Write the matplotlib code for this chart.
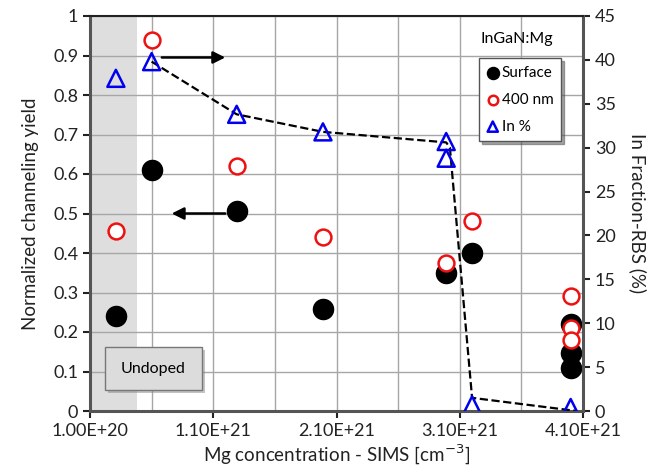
import matplotlib
matplotlib.use('Agg')
import matplotlib.pyplot as plt
import numpy as np
from matplotlib.patches import Rectangle

plt.rcParams['font.family'] = ['Lato', 'DejaVu Sans']

# Mg concentration (cm^-3) for each measured sample
x_surface = [3.1e20, 6.0e20, 1.29e21, 1.99e21, 2.99e21, 3.2e21, 4.0e21, 4.0e21, 4.0e21]
y_surface = [0.24, 0.61, 0.507, 0.257, 0.35, 0.40, 0.22, 0.148, 0.11]

x_400nm = [3.1e20, 6.0e20, 1.29e21, 1.99e21, 2.99e21, 3.2e21, 4.0e21, 4.0e21, 4.0e21]
y_400nm = [0.455, 0.94, 0.62, 0.44, 0.375, 0.48, 0.29, 0.21, 0.18]

x_in = [3.1e20, 6.0e20, 1.29e21, 1.99e21, 2.99e21, 2.99e21, 3.2e21, 4.0e21]
y_in = [37.9, 39.8, 33.8, 31.8, 30.7, 28.8, 0.7, 0.4]

# dashed guide for the eye
x_guide = [6.0e20, 1.29e21, 1.99e21, 2.99e21, 3.02e21, 3.2e21, 4.05e21]
y_guide = [39.8, 33.8, 31.8, 30.6, 30.0, 1.5, 0.0]

x_ticks = [1.0e20, 1.1e21, 2.1e21, 3.1e21, 4.1e21]
x_tick_labels = ['1.00E+20', '1.10E+21', '2.10E+21', '3.10E+21', '4.10E+21']

fig = plt.figure(figsize=(6.65, 4.72), dpi=100)
ax = fig.add_axes([90/665, 1 - 411/472, (583-90)/665, (411-16)/472])
ax2 = ax.twinx()

ax.set_xlim(1.0e20, 4.1e21)
ax.set_ylim(0, 1)
ax2.set_ylim(0, 45)

# undoped shaded region
ax.axvspan(1.0e20, 4.8e20, color='#dedede', zorder=0, lw=0)

# grid
ax.set_xticks(x_ticks)
ax.set_xticklabels(x_tick_labels)
ax.set_xticks(np.arange(6.0e20, 4.1e21, 1.0e21), minor=True)
ax.set_yticks(np.arange(0, 1.01, 0.1))
ax.set_yticklabels(['0'] + ['%.1f' % v for v in np.arange(0.1, 0.95, 0.1)] + ['1'])
ax.grid(True, which='both', color='#a6a6a6', lw=1, zorder=1)
ax.set_axisbelow(True)
ax.tick_params(axis='x', which='minor', length=0)
ax.tick_params(axis='both', which='major', labelsize=13, colors='#222222', length=5, width=1.5)
ax2.set_yticks(range(0, 46, 5))
ax2.tick_params(axis='y', labelsize=13, colors='#222222', length=5, width=1.5)

for s in ['left', 'bottom', 'right']:
    ax2.spines[s].set_linewidth(2.2)
    ax2.spines[s].set_color('#555555')
ax2.spines['top'].set_linewidth(1.5)
ax2.spines['top'].set_color('#222222')
for s in ax.spines.values():
    s.set_visible(False)

ax.scatter(x_surface, y_surface, s=210, c='black', zorder=3, label='Surface')
ax.scatter(x_400nm, y_400nm, s=130, facecolors='white', edgecolors='#ee1111',
           linewidths=1.8, zorder=4, label='400 nm')
ax2.plot(x_guide, y_guide, '--', color='black', lw=1.6, zorder=3)
ax2.scatter(x_in, y_in, s=150, marker='^', facecolors='none', edgecolors='#0000ee',
            linewidths=1.8, zorder=4, label='In %')

# arrows pointing to the axes
ax.annotate('', xy=(1.22e21, 0.895), xytext=(6.6e20, 0.895),
            arrowprops=dict(arrowstyle='-|>', color='black', lw=1.8, mutation_scale=18))
ax.annotate('', xy=(7.4e20, 0.50), xytext=(1.22e21, 0.50),
            arrowprops=dict(arrowstyle='-|>', color='black', lw=1.8, mutation_scale=18))

ax.set_xlabel('Mg concentration - SIMS [cm$^{-3}$]', fontsize=13.5, color='#222222', labelpad=3)
ax.set_ylabel('Normalized channeling yield', fontsize=13.5, color='#222222', labelpad=10)
ax2.set_ylabel('In Fraction-RBS (%)', fontsize=13.5, color='#222222', rotation=270, labelpad=22)

# legend
h1, l1 = ax.get_legend_handles_labels()
h2, l2 = ax2.get_legend_handles_labels()
leg = ax2.legend(h1 + h2, l1 + l2, loc='upper left', bbox_to_anchor=(389/493, 1 - 42/395),
                 fontsize=11, frameon=True, fancybox=False, shadow=True,
                 handletextpad=0.2, borderpad=0.5, labelspacing=0.85, markerscale=0.6,
                 handlelength=0.8, borderaxespad=0)
leg.get_frame().set_edgecolor('#555555')
leg.get_frame().set_linewidth(1)
fig.text(517/665, 1 - 39/472, 'InGaN:Mg', fontsize=11.5, ha='center', va='center')

# undoped label box
ax.add_patch(Rectangle((108/665, 1 - 393/472), 97/665, 43/472, transform=fig.transFigure,
                       facecolor='#888888', edgecolor='none', zorder=5, alpha=0.5))
ax.add_patch(Rectangle((105/665, 1 - 390/472), 97/665, 43/472, transform=fig.transFigure,
                       facecolor='#dcdcdc', edgecolor='#777777', lw=1, zorder=6))
fig.text(153/665, 1 - 369/472, 'Undoped', fontsize=11.5, ha='center', va='center', zorder=7)

fig.savefig('out.png', dpi=100)
